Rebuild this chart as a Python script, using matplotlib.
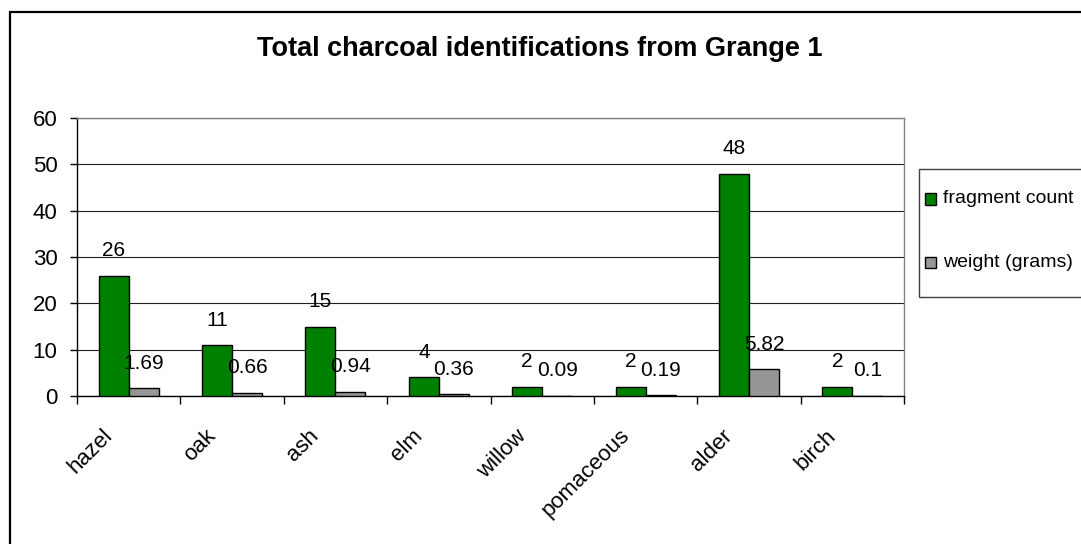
import matplotlib
matplotlib.use("Agg")
import matplotlib.pyplot as plt
import matplotlib.transforms as mtransforms
from matplotlib.patches import Rectangle
import numpy as np

categories = ["hazel", "oak", "ash", "elm", "willow", "pomaceous", "alder", "birch"]
fragment_count = [26, 11, 15, 4, 2, 2, 48, 2]
weight_grams = [1.69, 0.66, 0.94, 0.36, 0.09, 0.19, 5.82, 0.1]
count_labels = ["26", "11", "15", "4", "2", "2", "48", "2"]
weight_labels = ["1.69", "0.66", "0.94", "0.36", "0.09", "0.19", "5.82", "0.1"]
series_names = ["fragment count", "weight (grams)"]
yticks = [0, 10, 20, 30, 40, 50, 60]
title = "Total charcoal identifications from Grange 1"

plt.rcParams['font.family'] = ['Liberation Sans', 'DejaVu Sans']

W, H = 1081, 544
fig = plt.figure(figsize=(W / 100, H / 100), dpi=100)
fig.patch.set_facecolor("white")

# outer chart border (extends past right/bottom edge as in reference)
fig.patches.append(Rectangle((10 / W, -0.2), 1.5, (1 - 12 / H) + 0.2,
                             transform=fig.transFigure, fill=False,
                             edgecolor="#000000", linewidth=1.6))

ax = fig.add_axes([77 / W, 1 - 396 / H, 827 / W, 278 / H])

green = "#008000"
gray = "#969696"
bw = 0.29
x = np.arange(len(categories))

b1 = ax.bar(x - bw / 2, fragment_count, bw, color=green, edgecolor="black",
            linewidth=1.0, zorder=3)
b2 = ax.bar(x + bw / 2, weight_grams, bw, color=gray, edgecolor="black",
            linewidth=1.0, zorder=3)

for xi, v, lab in zip(x, fragment_count, count_labels):
    ax.annotate(lab, (xi - bw / 2, v), xytext=(0, 18), textcoords="offset points",
                ha="center", va="center", fontsize=15, zorder=5)
for xi, v, lab in zip(x, weight_grams, weight_labels):
    ax.annotate(lab, (xi + bw / 2, v), xytext=(0, 18), textcoords="offset points",
                ha="center", va="center", fontsize=15, zorder=5)

ax.set_xlim(-0.5, len(categories) - 0.5)
ax.set_ylim(0, 60)
ax.set_yticks(yticks)
ax.set_yticklabels([str(t) for t in yticks], fontsize=16)
ax.tick_params(axis="y", direction="out", length=5, width=1, pad=9, colors="black")

ax.set_xticks(x)
ax.set_xticklabels(categories, fontsize=16, rotation=45, ha="right", va="top")
ax.tick_params(axis="x", which="major", length=0, pad=21)
ax.set_xticks(np.arange(-0.5, len(categories)), minor=True)
ax.tick_params(axis="x", which="minor", direction="out", length=6, width=1, colors="black")
offset = mtransforms.ScaledTranslation(-12 / 100, 0, fig.dpi_scale_trans)
for lab in ax.get_xticklabels():
    lab.set_transform(lab.get_transform() + offset)

ax.yaxis.grid(True, color="#202020", linewidth=0.8, zorder=0)
ax.set_axisbelow(True)

ax.spines["left"].set_color("black")
ax.spines["bottom"].set_color("black")
ax.spines["top"].set_color("#808080")
ax.spines["right"].set_color("#808080")
for s in ax.spines.values():
    s.set_linewidth(1.0)

fig.text(540 / W, 1 - 56 / H, title, ha="center", va="baseline",
         fontsize=19.5, fontweight="bold")

# legend box (extends past the right edge as in the reference)
fig.patches.append(Rectangle((919 / W, 1 - 297 / H), 300 / W, 128 / H,
                             transform=fig.transFigure, facecolor="white",
                             edgecolor="#404040", linewidth=1.0))
for yc, col, name in zip([199, 262], [green, gray], series_names):
    fig.patches.append(Rectangle((925 / W, 1 - (yc + 5.5) / H), 11 / W, 11 / H,
                                 transform=fig.transFigure, facecolor=col,
                                 edgecolor="black", linewidth=1.0))
    fig.text(943 / W, 1 - yc / H, name, ha="left", va="center", fontsize=14)

fig.savefig("out.png", dpi=100)
